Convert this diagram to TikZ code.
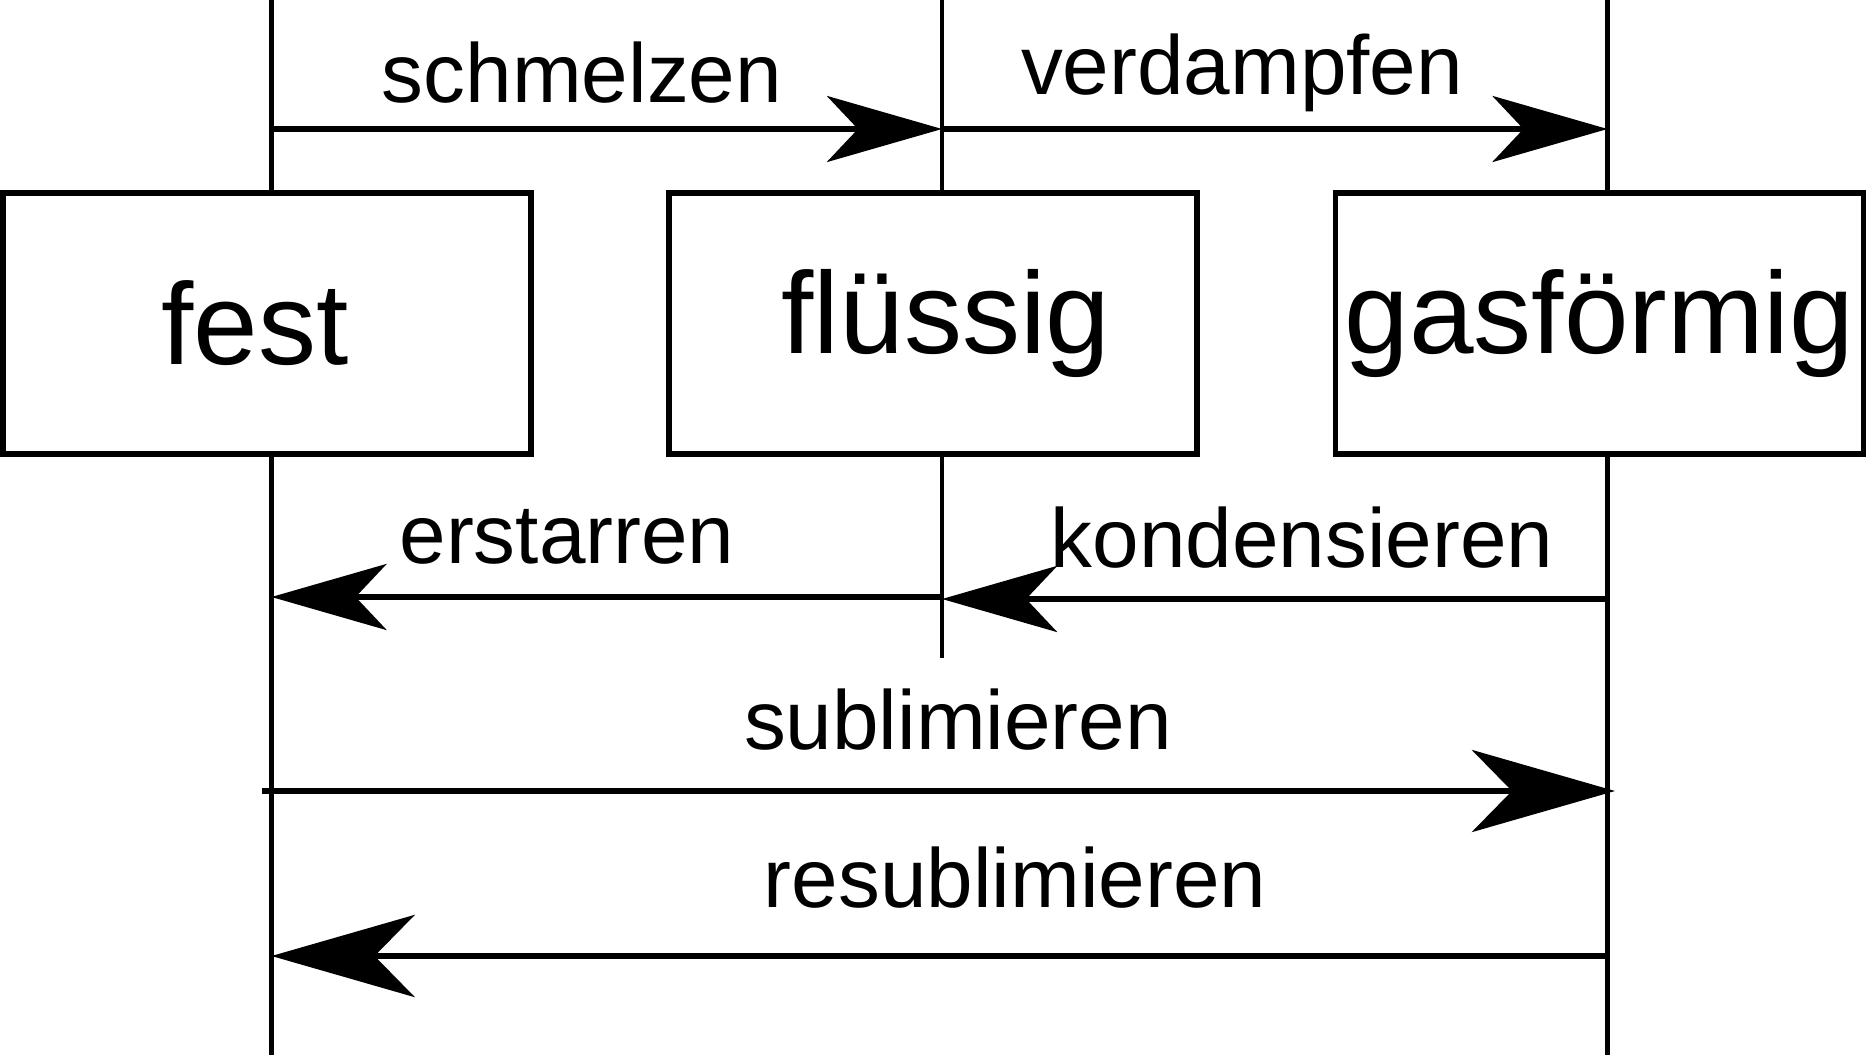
\documentclass[tikz,border=0pt]{standalone}
\usepackage{fontspec}
\setmainfont{Liberation Sans}
\usetikzlibrary{arrows.meta}

\begin{document}
\begin{tikzpicture}[
  x=0.01cm, y=-0.01cm,
  phase/.style={draw, fill=white, line width=0.055cm, minimum width=5.28cm, minimum height=2.61cm, inner sep=0pt, font=\fontsize{33}{40}\selectfont},
  life/.style={line width=0.045cm},
  trans/.style={line width=0.055cm, -{Stealth[length=1.15cm, width=0.66cm, inset=0.31cm]}},
  longtrans/.style={line width=0.065cm, -{Stealth[length=1.43cm, width=0.82cm, inset=0.40cm]}},
  lbl/.style={anchor=base, font=\fontsize{23.8}{28}\selectfont},
]
  \useasboundingbox (0,0) rectangle (1867,1055);

  % lifelines
  \coordinate (ftop) at (271.5,0);   \coordinate (fbot) at (271.5,1055);
  \coordinate (ltop) at (942,0);     \coordinate (lbot) at (942,658);
  \coordinate (gtop) at (1607.5,0);  \coordinate (gbot) at (1607.5,1055);
  \draw[life] (ftop) -- (fbot);
  \draw[life] (ltop) -- (lbot);
  \draw[life] (gtop) -- (gbot);

  \node[phase] (fest) at (267,323.5) {\hspace*{-0.24cm}fest};
  \node[phase] (fl) at (933,323.5) {\hspace*{0.26cm}flüssig};
  \node[phase] (gas) at (1599.5,323.5) {gasförmig};

  % arrow ends on the lifelines
  \coordinate (f1) at (271.5,129);  \coordinate (l1) at (942,129);  \coordinate (g1) at (1607.5,129);
  \coordinate (f2) at (271.5,597);  \coordinate (l2) at (942,597);
  \coordinate (l3) at (942,599);    \coordinate (g3) at (1607.5,599);
  \coordinate (f4) at (262,791);    \coordinate (g4) at (1615,791);
  \coordinate (f5) at (271.5,956);  \coordinate (g5) at (1607.5,956);

  \draw[trans] (f1) -- (l1);
  \draw[trans] (l1) -- (g1);
  \draw[trans] (l2) -- (f2);
  \draw[trans] (g3) -- (l3);
  \draw[longtrans] (f4) -- (g4);
  \draw[longtrans] (g5) -- (f5);

  \node[lbl] (t1) at (582,103) {schmelzen};
  \node[lbl] (t2) at (1242,95) {verdampfen};
  \node[lbl] (t3) at (567,563) {erstarren};
  \node[lbl] (t4) at (1302,567) {kondensieren};
  \node[lbl] (t5) at (958,749) {sublimieren};
  \node[lbl] (t6) at (1015,907) {resublimieren};
\end{tikzpicture}
\end{document}
